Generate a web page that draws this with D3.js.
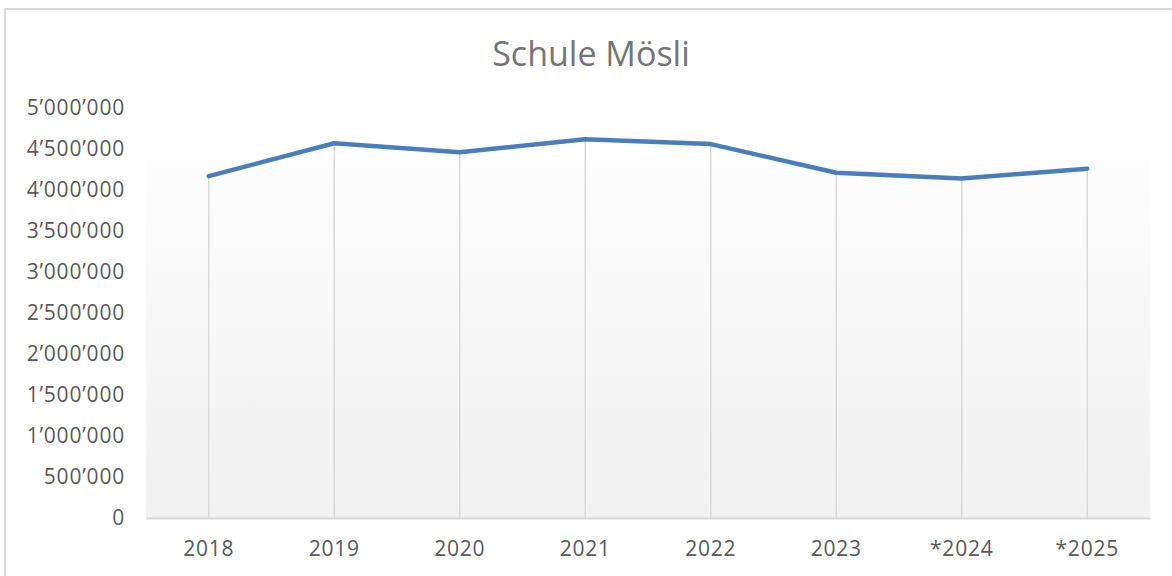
<!DOCTYPE html>
<html>
<head>
<meta charset="utf-8">
<script src="https://cdn.jsdelivr.net/npm/d3@7"></script>
<style>
body { margin:0; background:#fff; }
text { font-family:"Open Sans", sans-serif; }
</style>
</head>
<body>
<div id="chart"></div>
<script>
// chart data
var years = ["2018","2019","2020","2021","2022","2023","*2024","*2025"]
var costs = [4170000, 4570000, 4460000, 4620000, 4560000, 4210000, 4140000, 4260000]
var yTicks = [0,500000,1000000,1500000,2000000,2500000,3000000,3500000,4000000,4500000,5000000]
var title = "Schule Mösli"

var W = 1172, H = 576
var plotLeft = 146, plotRight = 1150, plotTop = 108, plotBottom = 518

var svg = d3.select("#chart").append("svg")
  .attr("width",W)
  .attr("height",H)

// outer frame
svg.append("rect")
  .attr("x",5).attr("y",9)
  .attr("width",W+20).attr("height",H+20)
  .attr("fill","white")
  .attr("stroke","#d9d9d9")
  .attr("stroke-width",2)

var defs = svg.append("defs")
var grad = defs.append("linearGradient")
  .attr("id","bg").attr("x1",0).attr("y1",0).attr("x2",0).attr("y2",1)
grad.append("stop").attr("offset","0%").attr("stop-color","#fdfdfd")
grad.append("stop").attr("offset","100%").attr("stop-color","#f1f1f1")

var x = d3.scaleBand().domain(years).range([plotLeft,plotRight])
var y = d3.scaleLinear().domain([0,5000000]).range([plotBottom,plotTop])

svg.append("rect")
  .attr("x",plotLeft).attr("y",160)
  .attr("width",plotRight-plotLeft).attr("height",plotBottom-160)
  .attr("fill","url(#bg)")

var fmt = function(v) {
  return d3.format(",")(v).replace(/,/g,"\u2019")
}

// y axis labels
var yAxis = d3.axisLeft(y).tickValues(yTicks).tickFormat(fmt).tickSize(0).tickPadding(0)
var yg = svg.append("g").attr("transform","translate(125,0)").call(yAxis)
yg.select(".domain").remove()
yg.selectAll("text")
  .attr("fill","#595959")
  .style("font-size","21px")
  .style("letter-spacing","0.8px")
  .style("font-family","'Open Sans', sans-serif")

// drop lines
svg.selectAll(".drop")
  .data(costs)
  .enter()
  .append("line")
  .attr("class","drop")
  .attr("x1",function(d,i){ return x(years[i]) + x.bandwidth()/2 })
  .attr("x2",function(d,i){ return x(years[i]) + x.bandwidth()/2 })
  .attr("y1",function(d){ return y(d) })
  .attr("y2",plotBottom)
  .attr("stroke","#d9d9d9")
  .attr("stroke-width",1.5)

// x axis
var xAxis = d3.axisBottom(x).tickSize(0).tickPadding(0)
var xg = svg.append("g").attr("transform","translate(0,"+plotBottom+")").call(xAxis)
xg.select(".domain").attr("stroke","#d9d9d9").attr("stroke-width",2)
xg.selectAll("text")
  .attr("dy","38px")
  .attr("fill","#595959")
  .style("font-size","21px")
  .style("letter-spacing","0.8px")
  .style("font-family","'Open Sans', sans-serif")

// line
var line = d3.line()
  .x(function(d,i){ return x(years[i]) + x.bandwidth()/2 })
  .y(function(d){ return y(d) })

svg.append("path")
  .datum(costs)
  .attr("d",line)
  .attr("fill","none")
  .attr("stroke","#4a7ebb")
  .attr("stroke-width",4.5)
  .attr("stroke-linecap","round")
  .attr("stroke-linejoin","round")

svg.append("text")
  .attr("x",591).attr("y",66)
  .attr("text-anchor","middle")
  .attr("fill","#757575")
  .style("font-size","34px")
  .text(title)
</script>
</body>
</html>
